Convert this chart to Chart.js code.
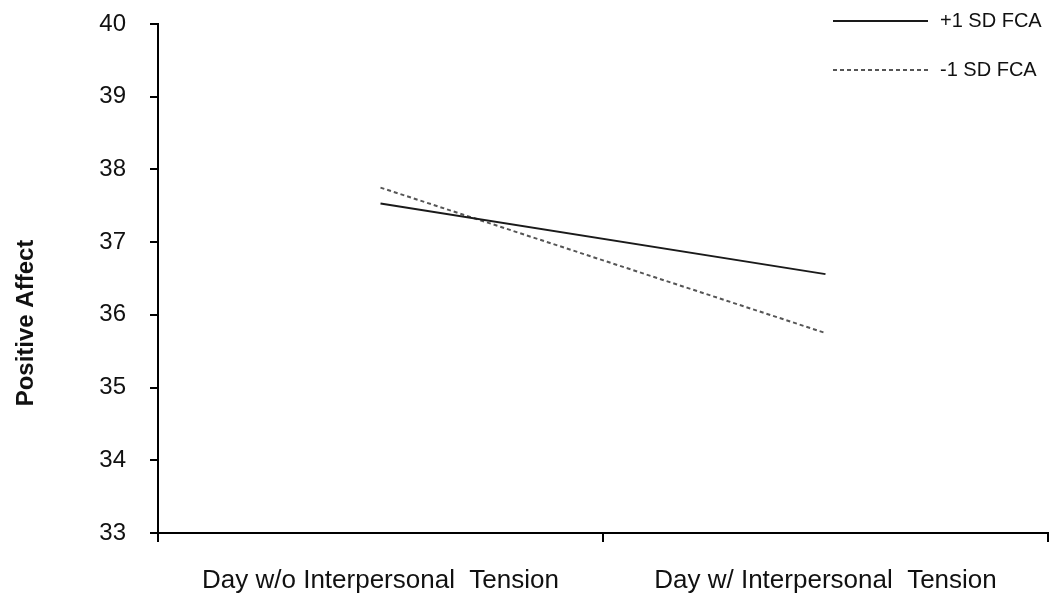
<!DOCTYPE html>
<html>
<head>
<meta charset="utf-8">
<script src="https://cdn.jsdelivr.net/npm/chart.js@4"></script>
<style>
  html, body { margin: 0; padding: 0; background: #fff; }
  #wrap { width: 1057px; height: 600px; }
</style>
</head>
<body>
<div id="wrap"><canvas id="chartAffect"></canvas></div>
<script>
var categories = ["Day w/o Interpersonal  Tension", "Day w/ Interpersonal  Tension"];
var highFCA = [37.53, 36.56];
var lowFCA = [37.75, 35.75];
var seriesNames = ["+1 SD FCA", "-1 SD FCA"];
var yTitle = "Positive Affect";

var FONT = "'Liberation Sans', Arial, sans-serif";

// legend + y title drawn by hand, the original puts them where chart.js won't
var extrasPlugin = {
  id: "extras",
  afterDraw: function (chart) {
    var ctx = chart.ctx;
    ctx.save();
    ctx.font = "20px " + FONT;
    ctx.textBaseline = "middle";
    ctx.fillStyle = "#111";
    var rows = [21, 70];
    chart.data.datasets.forEach(function (ds, i) {
      var y = rows[i];
      ctx.beginPath();
      ctx.strokeStyle = ds.borderColor;
      ctx.lineWidth = 2;
      ctx.setLineDash(ds.borderDash || []);
      ctx.moveTo(833, y);
      ctx.lineTo(928, y);
      ctx.stroke();
      ctx.setLineDash([]);
      ctx.fillText(ds.label, 940, y);
    });

    ctx.translate(26, 323);
    ctx.rotate(-Math.PI / 2);
    ctx.textAlign = "center";
    ctx.font = "bold 24px " + FONT;
    ctx.fillText(yTitle, 0, 0);
    ctx.restore();
  },
};

var chartAffect = new Chart(document.getElementById("chartAffect"), {
  type: "line",
  data: {
    labels: categories,
    datasets: [
      {
        label: seriesNames[0],
        data: highFCA,
        borderColor: "#1a1a1a",
        borderWidth: 2,
        pointRadius: 0,
        tension: 0,
      },
      {
        label: seriesNames[1],
        data: lowFCA,
        borderColor: "#555555",
        borderWidth: 2,
        borderDash: [4, 3],
        pointRadius: 0,
        tension: 0,
      },
    ],
  },
  options: {
    responsive: true,
    maintainAspectRatio: false,
    animation: false,
    layout: {
      padding: { top: 24, right: 9, left: 0, bottom: 0 },
    },
    plugins: {
      legend: { display: false },
      title: { display: false },
      tooltip: { enabled: false },
    },
    scales: {
      x: {
        offset: true,
        grid: {
          offset: true,
          drawOnChartArea: false,
          tickLength: 9,
          color: "#000",
          lineWidth: 2,
        },
        border: { color: "#000", width: 2 },
        ticks: {
          color: "#111",
          font: { family: FONT, size: 26 },
          padding: 23,
          maxRotation: 0,
        },
        afterFit: function (scale) {
          scale.height = 67;
          scale.paddingLeft = 0;
          scale.paddingRight = 0;
        },
      },
      y: {
        min: 33,
        max: 40,
        grid: {
          drawOnChartArea: false,
          tickLength: 8,
          color: "#000",
          lineWidth: 2,
        },
        border: { color: "#000", width: 2 },
        ticks: {
          stepSize: 1,
          color: "#111",
          font: { family: FONT, size: 24 },
          padding: 24,
        },
        afterFit: function (scale) {
          scale.width = 158;
          scale.paddingTop = 0;
          scale.paddingBottom = 0;
        },
      },
    },
  },
  plugins: [extrasPlugin],
});
</script>
</body>
</html>
